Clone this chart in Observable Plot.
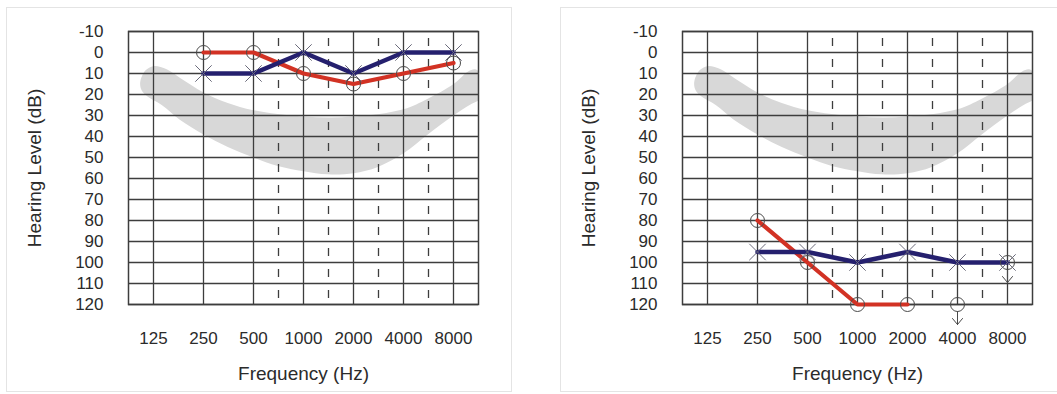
<!DOCTYPE html>
<html>
<head>
<meta charset="utf-8">
<script src="https://cdn.jsdelivr.net/npm/d3@7"></script>
<script src="https://cdn.jsdelivr.net/npm/@observablehq/plot@0.6"></script>
<style>
  html, body { margin: 0; padding: 0; background: #fff; }
  body { width: 1057px; height: 394px; overflow: hidden; position: relative; }
  .panel { position: absolute; top: 7px; width: 504px; height: 383px; border: 1px solid #e4e4e4; background: #fff; }
  #p1 { left: 6px; }
  #p2 { left: 560px; }
  svg { display: block; }
</style>
</head>
<body>
<div class="panel" id="p1"></div>
<div class="panel" id="p2"></div>
<script>
// Axis tick values
const freqs = [125, 250, 500, 1000, 2000, 4000, 8000];
const dbTicks = [-10, 0, 10, 20, 30, 40, 50, 60, 70, 80, 90, 100, 110, 120];

// Tested frequencies
const testFreqs = [250, 500, 1000, 2000, 4000, 8000];

// Left audiogram
const leftRed = [0, 0, 10, 15, 10, 5];            // circles (O)
const leftRedNoResponse = [false, false, false, false, false, false];
const leftBlue = [10, 10, 0, 10, 0, 0];            // crosses (X)

// Right audiogram
const rightRed = [80, 100, 120, 120, 120, 100];
const rightRedNoResponse = [false, false, false, false, true, true];
const rightBlue = [95, 95, 100, 95, 100, 100];

// Grey "speech banana" outline (frequency, dB), clockwise
const bandFreq = [104, 112, 125, 150, 180, 250, 350, 500, 1000, 2000, 4000, 5600, 8000, 9800, 10800, 11600, 11900,
                  11600, 10000, 8000, 5600, 4000, 2800, 2000, 1400, 1000, 700, 500, 350, 250, 180, 140, 115, 106];
const bandDb =   [14, 8.5, 6.5, 8, 12, 19, 24, 27.5, 30.5, 30.5, 27, 22, 15, 9, 8, 10, 16,
                  22, 25, 30, 39, 48, 54.5, 57.5, 58, 56.5, 54, 50, 45, 39, 32, 25, 21, 18];

const band = bandFreq.map((f, i) => ({f, db: bandDb[i]}));
// inter-octave (dashed) lines: geometric midpoints between 500..8000
const interOctave = freqs.slice(2, -1).map((f, i) => Math.sqrt(f * freqs[i + 3]));

const gridColor = "#3d3d3d";
const textColor = "#2b2b2b";
const noResponseArrow = {
  draw(context, l, r) {
    context.moveTo(0, -7);
    context.lineTo(0, -l);
    context.moveTo(-r, -l + r * 1.2);
    context.lineTo(0, -l);
    context.lineTo(r, -l + r * 1.2);
  }
};

function audiogram(red, redNR, blue) {
  const redPts = testFreqs.map((f, i) => ({f, db: red[i], nr: redNR[i]}));
  const bluePts = testFreqs.map((f, i) => ({f, db: blue[i]}));
  return Plot.plot({
    width: 504, height: 383,
    marginLeft: 121, marginRight: 33, marginTop: 23, marginBottom: 87,
    style: {fontFamily: "'Liberation Sans', Arial, sans-serif", fontSize: "17px", color: textColor, background: "#fff"},
    x: {type: "log", domain: [freqs[0] / Math.SQRT2, freqs[freqs.length - 1] * Math.SQRT2], axis: null},
    y: {domain: [-10, 120], reverse: true, axis: null},
    marks: [
      Plot.line(band, {x: "f", y: "db", curve: "catmull-rom-closed", fill: "#d8d8d8", stroke: "none", clip: true}),
      Plot.ruleY(dbTicks, {stroke: gridColor, strokeWidth: 1.3}),
      Plot.ruleX(freqs, {stroke: gridColor, strokeWidth: 1.3}),
      Plot.ruleX(interOctave, {stroke: gridColor, strokeWidth: 1.3, strokeDasharray: "8,13", strokeDashoffset: 14}),
      Plot.frame({stroke: gridColor, strokeWidth: 1.5}),
      Plot.text(freqs, {x: d => d, text: d => String(d), frameAnchor: "bottom", lineAnchor: "middle", dy: 34, fontSize: 17, fill: textColor}),
      Plot.text(dbTicks, {y: d => d, text: d => String(d), frameAnchor: "left", textAnchor: "end", lineAnchor: "middle", dx: -25, fontSize: 17, fill: textColor}),
      Plot.line(redPts.filter(d => !d.nr), {x: "f", y: "db", stroke: "#d23224", strokeWidth: 4.2}),
      Plot.line(bluePts, {x: "f", y: "db", stroke: "#25206e", strokeWidth: 4.6}),
      Plot.dot(redPts, {x: "f", y: "db", r: 7, stroke: "#4a4a4a", strokeWidth: 1, fill: "none"}),
      Plot.dot(bluePts, {x: "f", y: "db", r: 7.5, symbol: "times", stroke: "#6a6a7a", strokeWidth: 1}),
      Plot.vector(redPts.filter(d => d.nr), {x: "f", y: "db", length: 20, r: 5, rotate: 180, anchor: "start",
        shape: noResponseArrow, stroke: "#4a4a4a", strokeWidth: 1}),
      Plot.text(["Frequency (Hz)"], {text: d => d, frameAnchor: "bottom", lineAnchor: "middle", dy: 69, fontSize: 19, fill: textColor}),
      Plot.text(["Hearing Level (dB)"], {text: d => d, frameAnchor: "left", textAnchor: "middle", lineAnchor: "middle", dx: -94, rotate: -90, fontSize: 19, fill: textColor})
    ]
  });
}

document.getElementById("p1").append(audiogram(leftRed, leftRedNoResponse, leftBlue));
document.getElementById("p2").append(audiogram(rightRed, rightRedNoResponse, rightBlue));
</script>
</body>
</html>
